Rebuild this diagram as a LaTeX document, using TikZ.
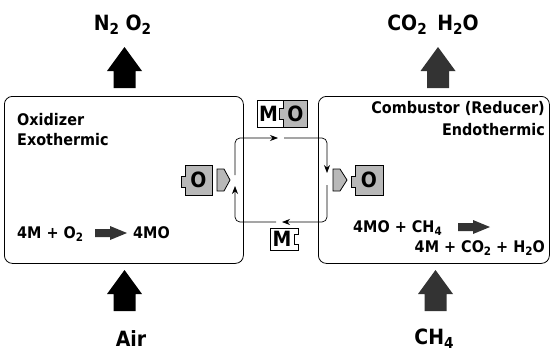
\documentclass[tikz,border=0pt]{standalone}
\usepackage{fontspec}
\setmainfont{DejaVu Sans}[FakeStretch=0.9]
\usetikzlibrary{arrows.meta}
\newcommand\subs[1]{\raisebox{-0.42ex}{\scalebox{0.72}{#1}}}
\tikzset{
  reactor/.style={draw, line width=0.8pt, rounded corners=8pt, inner sep=0pt, anchor=north west},
  lbl/.style={font=\fontsize{16}{18}\selectfont\bfseries, inner sep=0pt},
  big/.style={font=\fontsize{21}{24}\selectfont\bfseries, inner sep=0pt},
  letter/.style={font=\fontsize{21}{24}\selectfont\bfseries, inner sep=0pt},
  pw/.style={draw, fill=white, line width=0.8pt},
  pg/.style={draw, fill=black!28, line width=0.8pt},
  flow/.style={-{Stealth[length=8pt,width=6pt]}, line width=0.7pt, rounded corners=5pt},
  fatup/.pic={\fill[pic actions] (-11,41) -- (-11,24) -- (-17.5,24) -- (0,0) -- (17.5,24) -- (11,24) -- (11,41) -- cycle;},
  rarrow/.pic={\fill[pic actions] (0,-4) -- (15,-4) -- (15,-7) -- (32,0) -- (15,7) -- (15,4) -- (0,4) -- cycle;}
}
\begin{document}
\begin{tikzpicture}[x=1pt,y=-1pt]
\useasboundingbox (0,0) rectangle (551,351);
% reactors
\node[reactor, minimum width=239pt, minimum height=167pt] (ox) at (4,96) {};
\node[reactor, minimum width=231pt, minimum height=167pt] (red) at (318,96) {};
% outputs and inputs
\node[big, anchor=base] (n2o2) at (122.5,30) {N\subs{2} O\subs{2}};
\node[big, anchor=base] (co2) at (433,30) {CO\subs{2}\hspace{0.5em}H\subs{2}O};
\node[big, anchor=base] (air) at (131,346) {Air};
\node[big, anchor=base] (ch4) at (434,344) {CH\subs{4}};
\pic[fill=black] at (124.5,47) {fatup};
\pic[fill=black!80] at (438,47) {fatup};
\pic[fill=black] at (124.5,270) {fatup};
\pic[fill=black!80] at (435.5,270) {fatup};
% labels
\node[lbl, anchor=base west] (oxl) at (17,125) {Oxidizer};
\node[lbl, anchor=base west] (exo) at (17,145) {Exothermic};
\node[lbl, anchor=base east] (redl) at (545,113) {Combustor (Reducer)};
\node[lbl, anchor=base east] (endo) at (545,135) {Endothermic};
\node[lbl, anchor=base west] (r1a) at (17,238) {4M + O\subs{2}};
\pic[fill=black!80] at (95,233) {rarrow};
\node[lbl, anchor=base west] (r1b) at (133,238) {4MO};
\node[lbl, anchor=base west] (r2a) at (353,232) {4MO + CH\subs{4}};
\pic[fill=black!80] at (458,227) {rarrow};
\node[lbl, anchor=base east] (r2b) at (545,252) {4M + CO\subs{2} + H\subs{2}O};
% puzzle blocks
\draw[pw] (257,100) -- (283,100) -- (283,108) -- (279,108) -- (279,119) -- (283,119) -- (283,127) -- (257,127) -- cycle;
\draw[pg] (283,100) -- (307,100) -- (307,127) -- (283,127) -- (283,119) -- (279,119) -- (279,108) -- (283,108) -- cycle;
\node[letter] (mtop) at (268.5,113.5) {M};
\node[letter] (otop) at (295.5,113.5) {O};
\draw[pw] (270,228) -- (298,228) -- (298,234) -- (294,234) -- (294,244) -- (298,244) -- (298,250) -- (270,250) -- cycle;
\node[letter] (mbot) at (282,239) {M};
\draw[pg] (185,165) -- (212,165) -- (212,195) -- (185,195) -- (185,187) -- (181,187) -- (181,176) -- (185,176) -- cycle;
\node[letter] (oleft) at (198.5,180) {O};
\draw[pg] (217,169) -- (224,169) -- (230,180) -- (224,191) -- (217,191) -- cycle;
\draw[pg] (355,165) -- (383,165) -- (383,195) -- (355,195) -- (355,187) -- (351,187) -- (351,176) -- (355,176) -- cycle;
\node[letter] (oright) at (369,180) {O};
\draw[pg] (333,169) -- (340,169) -- (347,180) -- (340,191) -- (333,191) -- cycle;
% loop
\coordinate (a1) at (235,175); \coordinate (a2) at (235,138); \coordinate (a3) at (278,138);
\coordinate (b1) at (284,138); \coordinate (b2) at (327,138); \coordinate (b3) at (327,173);
\coordinate (c1) at (327,185); \coordinate (c2) at (327,222); \coordinate (c3) at (282,222);
\coordinate (d1) at (276,222); \coordinate (d2) at (235,222); \coordinate (d3) at (235,186);
\draw[flow] (a1) -- (a2) -- (a3);
\draw[flow] (b1) -- (b2) -- (b3);
\draw[flow] (c1) -- (c2) -- (c3);
\draw[flow] (d1) -- (d2) -- (d3);
\end{tikzpicture}
\end{document}
